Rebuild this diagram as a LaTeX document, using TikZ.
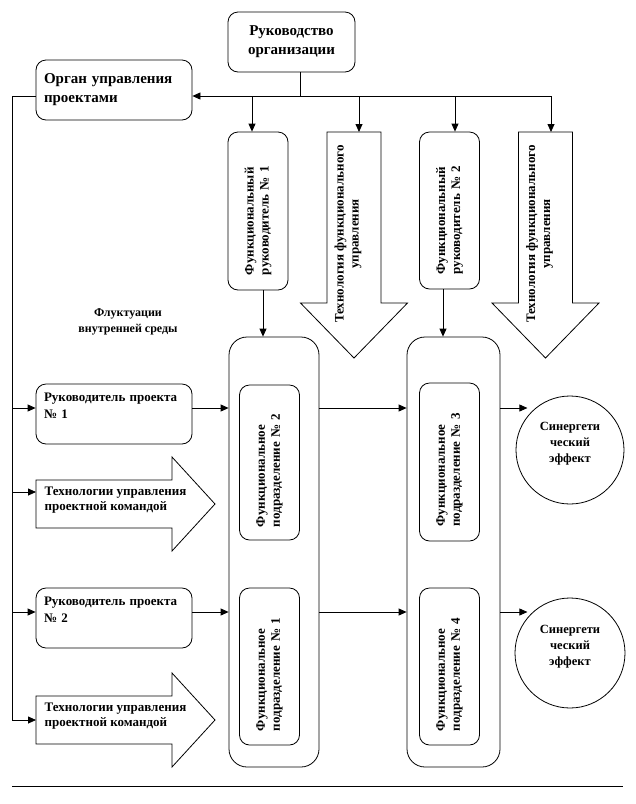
\documentclass[tikz,border=0pt]{standalone}
\usepackage{fontspec}
\setmainfont{Liberation Serif}
\usetikzlibrary{arrows.meta, positioning}

\begin{document}
\begin{tikzpicture}[x=1pt, y=-1pt, line width=0.8pt,
    >={Triangle[length=8pt,width=7pt]},
    tbox/.style={draw, rounded corners=10pt, minimum height=60pt,
      font=\fontsize{15}{19}\selectfont\bfseries},
    pbox/.style={draw, rounded corners=10pt, minimum width=156pt, minimum height=60pt,
      text width=140pt, align=left, font=\fontsize{13}{17}\selectfont\bfseries},
    vbox/.style={draw, rounded corners=10pt, rotate=90, minimum height=60pt,
      align=left, font=\fontsize{13}{15}\selectfont\bfseries},
    bigbox/.style={draw, rounded corners=18pt, minimum height=430pt},
    syn/.style={draw, circle, inner sep=0pt, align=center,
      font=\fontsize{12.5}{16}\selectfont\bfseries},
    atext/.style={align=center, font=\fontsize{13}{15}\selectfont\bfseries},
    note/.style={align=center, font=\fontsize{12}{16}\selectfont\bfseries}]
      \useasboundingbox (0,0) rectangle (636,804);

      % top level
      \node[tbox, minimum width=127pt, align=center] (top) at (291.5,42) {Руководство\\организации};
      \node[tbox, minimum width=156pt, text width=140pt, align=left] (org) at (114,90) {Орган управления\\проектами};

      \coordinate (hub) at (300,96);
      \coordinate (rail) at (12,96);
      \coordinate (j1) at (252,96);
      \coordinate (j2) at (359,96);
      \coordinate (j3) at (455,96);
      \coordinate (j4) at (551,96);

      % functional heads
      \node[vbox, minimum width=158pt, text width=128pt] (fr1) at (258,211) {Функциональный\\руководитель № 1};
      \node[vbox, minimum width=157pt, text width=128pt] (fr2) at (449.5,210.5) {Функциональный\\руководитель № 2};

      % technology arrows (down)
      \foreach \x/\n in {354/1,545.5/2}{
        \draw (\x-27,132) -- (\x+27,132) -- (\x+27,303) -- (\x+53.5,303) -- (\x,358)
          -- (\x-53.5,303) -- (\x-27,303) -- cycle;
        \coordinate (ta\n) at (\x,132);
        \node[atext, rotate=90] (tl\n) at (\x-6,234) {Технология функционального\\управления};
      }

      \node[note] (fl) at (128,322) {Флуктуации\\внутренней среды};

      % containers
      \node[bigbox, minimum width=90pt] (c1) at (274,552) {};
      \node[bigbox, minimum width=93pt] (c2) at (453.5,552) {};
      \node[vbox, minimum width=155pt, text width=129pt] (d2) at (269.5,462.5) {Функциональное\\подразделение № 2};
      \node[vbox, minimum width=157pt, text width=129pt] (d1) at (269.5,666.5) {Функциональное\\подразделение № 1};
      \node[vbox, minimum width=158pt, text width=129pt] (d3) at (449.5,462) {Функциональное\\подразделение № 3};
      \node[vbox, minimum width=157pt, text width=129pt] (d4) at (449.5,666.5) {Функциональное\\подразделение № 4};

      % project managers
      \node[pbox] (rp1) at (114,414) {Руководитель проекта\\№ 1\\\mbox{}};
      \node[pbox] (rp2) at (114,618) {Руководитель проекта\\№ 2\\\mbox{}};

      % technology arrows (right)
      \foreach \y/\n in {504/1,720/2}{
        \draw (36,\y-24) -- (172,\y-24) -- (172,\y-47) -- (215,\y) -- (172,\y+47)
          -- (172,\y+24) -- (36,\y+24) -- cycle;
        \node[atext, anchor=west, align=left] (tt\n) at (41,\y-4) {Технологии управления\\проектной командой};
      }
      \coordinate (tin1) at (36,492);
      \coordinate (tin2) at (36,720);

      % synergy
      \node[syn, minimum size=108pt] (s1) at (570,450) {Синергети\\ческий\\эффект\\\mbox{}};
      \node[syn, minimum size=110pt] (s2) at (570,653) {Синергети\\ческий\\эффект\\\mbox{}};

      % connectors
      \draw (top.south -| hub) -- (hub);
      \draw[->] (j4) -- (org.east |- j4);
      \draw[->] (j1) -- (j1 |- fr1.east);
      \draw[->] (j2) -- (j2 |- ta1);
      \draw[->] (j3) -- (j3 |- fr2.east);
      \draw[->] (j4) -- (j4 |- ta2);

      \coordinate (k1) at (263,290);
      \coordinate (k2) at (443,289);
      \draw[->] (k1) -- (k1 |- c1.north);
      \draw[->] (k2) -- (k2 |- c2.north);

      \draw[->] (org.west |- rail) -- (rail) |- (tin2);
      \draw[->] (rail) |- ([yshift=6pt]rp1.west);
      \draw[->] (rail) |- (tin1);
      \draw[->] (rail) |- ([yshift=6pt]rp2.west);

      \coordinate (r1) at ([yshift=6pt]rp1.east);
      \coordinate (r2) at ([yshift=6pt]rp2.east);
      \draw[->] (r1) -- (r1 -| c1.west);
      \draw[->] (r2) -- (r2 -| c1.west);
      \draw[->] (r1 -| c1.east) -- (r1 -| c2.west);
      \draw[->] (r2 -| c1.east) -- (r2 -| c2.west);
      \draw[->] (r1 -| c2.east) -- ++(27,0);
      \draw[->] (r2 -| c2.east) -- ++(27,0);

      \draw (12,786) -- (623,786);
\end{tikzpicture}
\end{document}
